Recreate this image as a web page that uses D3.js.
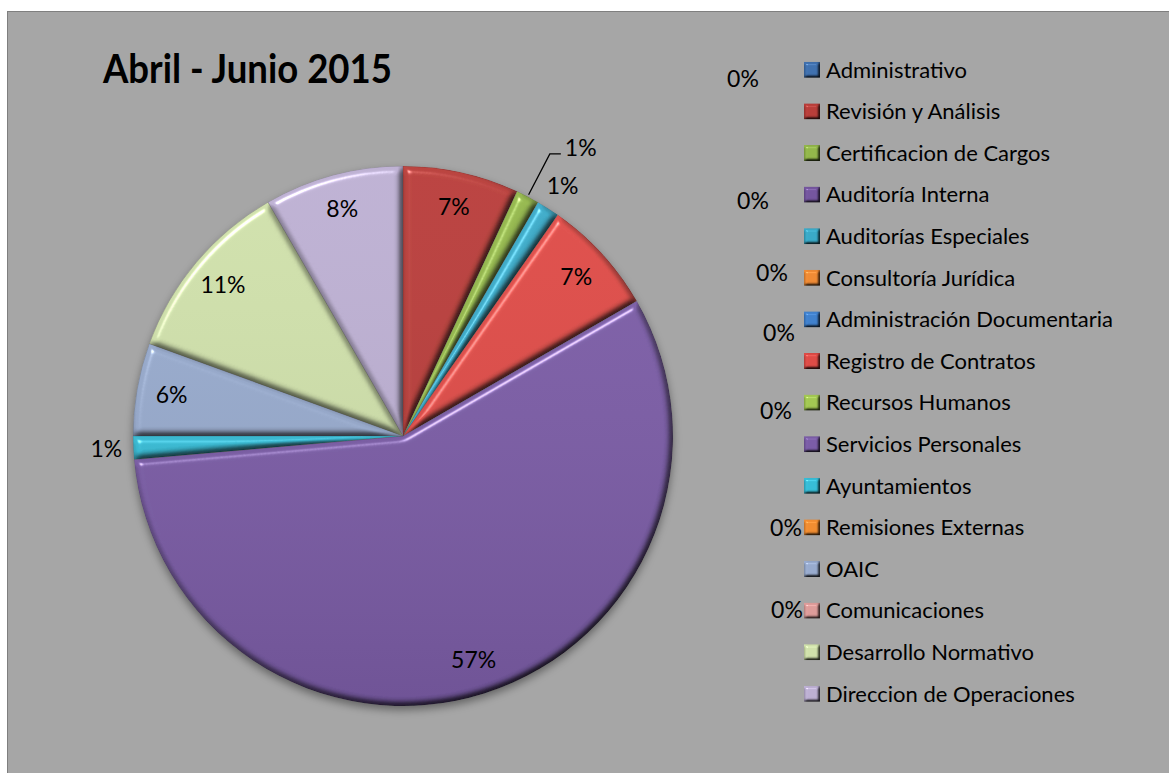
<!DOCTYPE html>
<html>
<head>
<meta charset="utf-8">
<script src="https://d3js.org/d3.v7.min.js"></script>
<style>
  html, body { margin: 0; padding: 0; background: #fff; }
  svg { display: block; font-family: Lato, "Open Sans", sans-serif; }
</style>
</head>
<body>
<div class="chart"></div>
<script>
// data
const categories = [
  "Administrativo", "Revisión y Análisis", "Certificacion de Cargos", "Auditoría Interna",
  "Auditorías Especiales", "Consultoría Jurídica", "Administración Documentaria", "Registro de Contratos",
  "Recursos Humanos", "Servicios Personales", "Ayuntamientos", "Remisiones Externas",
  "OAIC", "Comunicaciones", "Desarrollo Normativo", "Direccion de Operaciones"
];
const values = [0, 25, 5, 0, 5, 0, 0, 25, 0, 205, 5, 0, 20, 0, 40, 30];
const colors = [
  "#3f70ae", "#b83d39", "#92b64a", "#74559e", "#39a9c7", "#ee8a34", "#3f80cc", "#de4b46",
  "#a2c752", "#7a5ca6", "#36bcd6", "#f08c30", "#97aacd", "#dc9b99", "#cfe0aa", "#bcafd2"
];
// how Excel placed each data label
const labelMode = [
  "zero", "in", "callout", "zero", "out", "zero", "zero", "in",
  "zero", "in", "out", "zero", "in", "zero", "in", "in"
];
// where the 0% labels ended up (they drift over to the legend)
const zeroLabelPos = [[743, 79], [753, 201], [772, 273], [779, 333], [776, 411], [786, 528], [787, 610]];
const title = "Abril - Junio 2015";

const W = 1169, H = 773;
const cx = 403, cy = 436, R = 270;

const svg = d3.select(".chart").append("svg")
  .attr("width", W)
  .attr("height", H);

const defs = svg.append("defs");

// bevel: lighting on the blurred alpha, multiplied into the fill, plus a soft highlight
function bevel(id, blur, scale, spec) {
  const f = defs.append("filter").attr("id", id)
    .attr("color-interpolation-filters", "sRGB")
    .attr("x", "-10%").attr("y", "-10%").attr("width", "120%").attr("height", "120%");
  f.append("feGaussianBlur").attr("in", "SourceAlpha").attr("stdDeviation", blur).attr("result", "b");
  f.append("feDiffuseLighting").attr("in", "b").attr("surfaceScale", scale)
    .attr("diffuseConstant", 1.1547).attr("lighting-color", "#fff").attr("result", "light")
    .append("feDistantLight").attr("azimuth", 235).attr("elevation", 60);
  f.append("feComposite").attr("in", "SourceGraphic").attr("in2", "light")
    .attr("operator", "arithmetic").attr("k1", 1).attr("k2", 0).attr("k3", 0).attr("k4", 0)
    .attr("result", "lit");
  f.append("feSpecularLighting").attr("in", "b").attr("surfaceScale", scale)
    .attr("specularConstant", spec).attr("specularExponent", 60)
    .attr("lighting-color", "#fff").attr("result", "spec")
    .append("feDistantLight").attr("azimuth", 235).attr("elevation", 45);
  f.append("feComposite").attr("in", "spec").attr("in2", "SourceAlpha").attr("operator", "in").attr("result", "specIn");
  f.append("feComposite").attr("in", "lit").attr("in2", "specIn")
    .attr("operator", "arithmetic").attr("k1", 0).attr("k2", 1).attr("k3", 1).attr("k4", 0)
    .attr("result", "sum");
  f.append("feComposite").attr("in", "sum").attr("in2", "SourceAlpha").attr("operator", "in");
}
bevel("bevel", 3.5, 5, 0.5);
bevel("bevelSmall", 1.5, 3, 0.4);

const shadow = defs.append("filter").attr("id", "shadow")
  .attr("x", "-20%").attr("y", "-20%").attr("width", "140%").attr("height", "140%");
shadow.append("feDropShadow").attr("dx", 0).attr("dy", 4).attr("stdDeviation", 4)
  .attr("flood-color", "#000").attr("flood-opacity", 0.4);

const shade = defs.append("linearGradient").attr("id", "shade")
  .attr("x1", 0).attr("y1", 0).attr("x2", 0).attr("y2", 1);
shade.append("stop").attr("offset", 0).attr("stop-color", "#fff").attr("stop-opacity", 0.04);
shade.append("stop").attr("offset", 1).attr("stop-color", "#000").attr("stop-opacity", 0.1);

// chart area
svg.append("rect")
  .attr("x", 7.5).attr("y", 11.5)
  .attr("width", W).attr("height", H)
  .attr("fill", "#a6a6a6")
  .attr("stroke", "#7f7f7f");

svg.append("text")
  .attr("x", 103).attr("y", 83)
  .attr("font-size", 40).attr("font-weight", "bold")
  .attr("textLength", 289).attr("lengthAdjust", "spacingAndGlyphs")
  .attr("fill", "#000")
  .text(title);

// pie
const data = categories.map((c, i) => ({ name: c, value: values[i], color: colors[i], mode: labelMode[i] }));
const total = d3.sum(values);
const pct = v => Math.round(v / total * 100) + "%";

const pie = d3.pie().value(d => d.value).sort(null);
const arcs = pie(data);
const arc = d3.arc().innerRadius(0).outerRadius(R);

const pieG = svg.append("g")
  .attr("transform", `translate(${cx},${cy})`);

const slices = pieG.append("g").attr("class", "slices").attr("filter", "url(#shadow)");
slices.selectAll("path")
  .data(arcs.filter(d => d.data.value > 0))
  .enter().append("path")
  .attr("d", arc)
  .attr("fill", d => d.data.color)
  .attr("stroke", "rgba(0,0,0,0.2)")
  .attr("stroke-width", 0.8)
  .attr("filter", "url(#bevel)");

pieG.append("circle")
  .attr("r", R)
  .attr("fill", "url(#shade)")
  .style("pointer-events", "none");

// labels
const labels = pieG.append("g").attr("class", "labels")
  .attr("font-size", 23).attr("fill", "#000");

const at = (d, r) => {
  const a = (d.startAngle + d.endAngle) / 2;
  return [Math.sin(a) * r, -Math.cos(a) * r];
};

labels.selectAll(".inlabel")
  .data(arcs.filter(d => d.data.mode === "in" || d.data.mode === "out"))
  .enter().append("text")
  .attr("class", "inlabel")
  .attr("x", d => at(d, d.data.mode === "in" ? 235 : 297)[0])
  .attr("y", d => at(d, d.data.mode === "in" ? 235 : 297)[1])
  .attr("text-anchor", "middle")
  .attr("dy", "0.35em")
  .text(d => pct(d.data.value));

arcs.filter(d => d.data.mode === "callout").forEach(d => {
  const p0 = at(d, 272), p1 = at(d, 318);
  const p2 = [p1[0] + 11, p1[1]];
  labels.append("polyline")
    .attr("points", [p0, p1, p2].map(p => p.join(",")).join(" "))
    .attr("fill", "none")
    .attr("stroke", "#000")
    .attr("stroke-width", 1.3);
  labels.append("text")
    .attr("x", p2[0] + 4).attr("y", p2[1] - 6)
    .attr("dy", "0.35em")
    .text(pct(d.data.value));
});

const zeros = arcs.filter(d => d.data.mode === "zero");
svg.append("g").attr("class", "zerolabels")
  .attr("font-size", 23)
  .selectAll("text")
  .data(zeros)
  .enter().append("text")
  .attr("x", (d, i) => zeroLabelPos[i][0])
  .attr("y", (d, i) => zeroLabelPos[i][1])
  .attr("text-anchor", "middle")
  .attr("dy", "0.35em")
  .text(d => pct(d.data.value));

// legend
const legendY = d3.scaleBand()
  .domain(categories)
  .range([49, 49 + 41.6 * categories.length]);

const legend = svg.append("g").attr("class", "legend");
const item = legend.selectAll("g")
  .data(data)
  .enter().append("g")
  .attr("transform", d => `translate(804,${legendY(d.name) + legendY.bandwidth() / 2})`);

item.append("rect")
  .attr("x", 0).attr("y", -8)
  .attr("width", 16).attr("height", 16)
  .attr("fill", d => d.color)
  .attr("filter", "url(#bevelSmall)");

item.append("text")
  .attr("x", 22)
  .attr("dy", "0.35em")
  .attr("font-size", 22)
  .text(d => d.name);
</script>
</body>
</html>
